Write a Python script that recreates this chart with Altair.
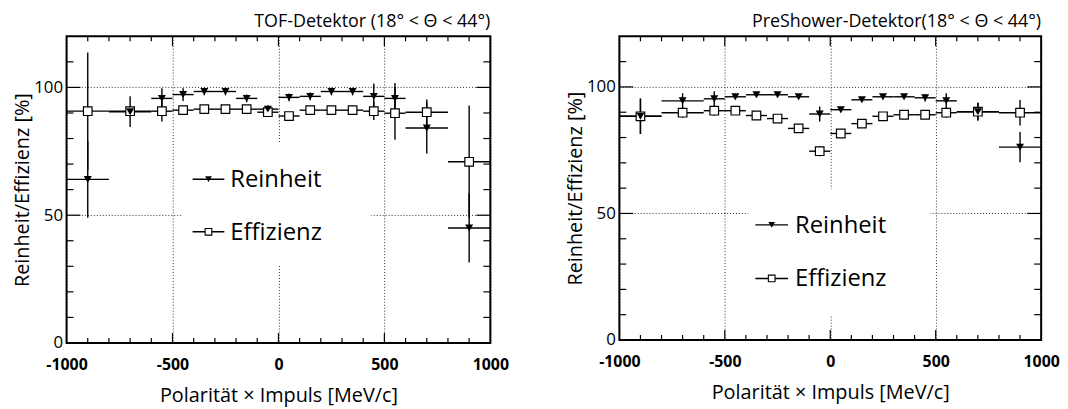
import altair as alt
import pandas as pd

# ---------------- data ----------------
x_center = [-900, -700, -550, -450, -350, -250, -150, -50, 50, 150, 250, 350, 450, 550, 700, 900]
x_halfwidth = [100, 100, 50, 50, 50, 50, 50, 50, 50, 50, 50, 50, 50, 50, 100, 100]

tof_reinheit = [64.0, 90.5, 95.7, 97.2, 98.4, 98.4, 95.7, 91.5, 96.1, 96.5, 98.4, 98.4, 96.5, 95.7, 84.1, 45.0]
tof_reinheit_err = [15.0, 6.0, 4.0, 2.5, 1.5, 1.5, 1.5, 1.5, 1.5, 1.5, 1.5, 1.5, 5.0, 6.0, 10.0, 13.5]
tof_effizienz = [90.7, 90.7, 90.7, 91.1, 91.5, 91.5, 91.5, 90.3, 88.8, 91.1, 91.1, 91.1, 90.7, 89.9, 90.3, 70.9]
tof_effizienz_err = [23.0, 2.0, 4.0, 1.0, 1.0, 1.0, 1.0, 1.0, 1.0, 1.0, 1.0, 1.0, 3.5, 10.4, 5.0, 22.0]

ps_reinheit = [88.4, 94.5, 95.3, 96.1, 96.9, 96.9, 96.1, 89.3, 91.0, 94.9, 96.1, 96.1, 95.7, 94.5, 90.2, 76.2]
ps_reinheit_err = [7.0, 3.0, 3.0, 1.0, 1.0, 1.0, 1.0, 3.0, 1.0, 1.0, 1.0, 1.0, 1.5, 3.0, 3.5, 6.0]
ps_effizienz = [88.4, 89.8, 90.6, 90.6, 88.7, 87.5, 83.6, 74.6, 81.6, 85.5, 88.4, 89.0, 89.0, 89.8, 90.2, 89.8]
ps_effizienz_err = [7.0, 2.0, 2.0, 1.0, 1.0, 1.0, 1.0, 2.0, 1.0, 1.0, 1.0, 1.0, 1.0, 2.0, 3.5, 5.0]

x_label_values = [-1000, -500, 0, 500, 1000]
y_label_values = [0, 50, 100]
x_minor_ticks = [-900, -800, -700, -600, -400, -300, -200, -100, 100, 200, 300, 400, 600, 700, 800, 900]
x_major_ticks = [-500, 0, 500]
y_minor_ticks = [10, 20, 30, 40, 60, 70, 80, 90, 110]
y_major_ticks = [50, 100]

series_names = ["Reinheit", "Effizienz"]
x_title = "Polarität × Impuls [MeV/c]"
y_title = "Reinheit/Effizienz [%]"
title_tof = "TOF-Detektor (18° < Θ < 44°)"
title_ps = "PreShower-Detektor(18° < Θ < 44°)"

FONT = "Open Sans"


def make_df(reinheit, r_err, eff, e_err):
    rows = []
    for name, vals, errs in ((series_names[0], reinheit, r_err), (series_names[1], eff, e_err)):
        for xc, hw, v, e in zip(x_center, x_halfwidth, vals, errs):
            rows.append({"series": name, "x": xc, "hw": hw, "y": v, "err": e})
    return pd.DataFrame(rows)


def panel(df, title, w, h, box, line_x, text_x, entry_y):
    xs = alt.Scale(domain=[-1000, 1000], nice=False, zero=False)
    ys = alt.Scale(domain=[0, 120], nice=False, zero=False)
    x_axis = alt.Axis(values=x_label_values, labelExpr="'' + datum.value", labelFlush=False,
                      grid=True, gridDash=[1, 2], gridColor="#333", gridWidth=1, ticks=False,
                      domain=False, labelFontSize=16, labelFontWeight="bold", labelPadding=14,
                      labelColor="black", title=x_title, titleFontSize=20,
                      titleFontWeight="normal", titleColor="black", titlePadding=13,
                      labelFont=FONT, titleFont=FONT)
    y_axis = alt.Axis(values=y_label_values, labelExpr="'' + datum.value", labelFlush=False,
                      grid=True, gridDash=[1, 2], gridColor="#333", gridWidth=1, ticks=False,
                      domain=False, labelFontSize=17, labelPadding=4, labelColor="black",
                      title=y_title, titleFontSize=20, titleFontWeight="normal",
                      titleColor="black", titlePadding=1, labelFont=FONT, titleFont=FONT)

    X = lambda f: alt.X(f, type="quantitative", scale=xs, axis=x_axis)
    Y = lambda f: alt.Y(f, type="quantitative", scale=ys, axis=y_axis)

    one = alt.Data(values=[{"a": 1}])

    layers = []
    # ticks (inward)
    xmin = pd.DataFrame({"v": x_minor_ticks})
    xmaj = pd.DataFrame({"v": x_major_ticks})
    ymin = pd.DataFrame({"v": y_minor_ticks})
    ymaj = pd.DataFrame({"v": y_major_ticks})
    for d, L in ((xmin, 5), (xmaj, 10)):
        layers.append(alt.Chart(d).mark_rule(color="black", strokeWidth=1.2).encode(
            x=X("v"), y=alt.value(0), y2=alt.value(L)))
        layers.append(alt.Chart(d).mark_rule(color="black", strokeWidth=1.2).encode(
            x=X("v"), y=alt.value(h), y2=alt.value(h - L)))
    for d, L in ((ymin, 7), (ymaj, 14)):
        layers.append(alt.Chart(d).mark_rule(color="black", strokeWidth=1.2).encode(
            y=Y("v"), x=alt.value(0), x2=alt.value(L)))
        layers.append(alt.Chart(d).mark_rule(color="black", strokeWidth=1.2).encode(
            y=Y("v"), x=alt.value(w), x2=alt.value(w - L)))

    # legend white box (covers grid)
    layers.append(alt.Chart(one).mark_rect(color="white").encode(
        x=alt.value(box[0]), x2=alt.value(box[1]), y=alt.value(box[2]), y2=alt.value(box[3])))

    base = alt.Chart(df)
    # horizontal bars
    layers.append(base.mark_rule(color="black", strokeWidth=1.4).transform_calculate(
        xlo="datum.x - datum.hw", xhi="datum.x + datum.hw").encode(
        x=X("xlo"), x2="xhi:Q", y=Y("y")))
    # vertical error bars
    layers.append(base.mark_rule(color="black", strokeWidth=1.4).transform_calculate(
        ylo="datum.y - datum.err", yhi="datum.y + datum.err").encode(
        x=X("x"), y=Y("ylo"), y2="yhi:Q"))
    # markers
    layers.append(base.transform_filter(alt.datum.series == series_names[1]).mark_point(
        shape="square", filled=True, fill="white", stroke="black", strokeWidth=1.2,
        size=75, opacity=1).encode(x=X("x"), y=Y("y")))
    layers.append(base.transform_filter(alt.datum.series == series_names[0]).mark_point(
        shape="triangle-down", filled=True, color="black", size=65, opacity=1).encode(
        x=X("x"), y=Y("y")))

    # legend entries
    for i, name in enumerate(series_names):
        yy = entry_y[i]
        layers.append(alt.Chart(one).mark_rule(color="black", strokeWidth=1.4).encode(
            x=alt.value(line_x[0]), x2=alt.value(line_x[1]), y=alt.value(yy)))
        if i == 0:
            layers.append(alt.Chart(one).mark_point(shape="triangle-down", filled=True,
                                                     color="black", size=45, opacity=1).encode(
                x=alt.value((line_x[0] + line_x[1]) / 2), y=alt.value(yy)))
        else:
            layers.append(alt.Chart(one).mark_point(shape="square", filled=True, fill="white",
                                                     stroke="black", strokeWidth=1.1, size=45,
                                                     opacity=1).encode(
                x=alt.value((line_x[0] + line_x[1]) / 2), y=alt.value(yy)))
        layers.append(alt.Chart(one).mark_text(align="left", baseline="middle", fontSize=24,
                                               font=FONT, color="black").encode(
            x=alt.value(text_x), y=alt.value(yy + 1), text=alt.value(name)))

    # frame
    layers.append(alt.Chart(one).mark_rect(filled=False, stroke="black", strokeWidth=2).encode(
        x=alt.value(0), x2=alt.value(w), y=alt.value(0), y2=alt.value(h)))

    return alt.layer(*layers).properties(
        width=w, height=h,
        title=alt.TitleParams(title, anchor="end", frame="group", fontSize=18,
                              fontWeight="normal", font=FONT, offset=4, color="black"))


left = panel(make_df(tof_reinheit, tof_reinheit_err, tof_effizienz, tof_effizienz_err),
             title_tof, 427, 309, (117, 307, 107, 231), (127, 159), 165, (144, 197))
right = panel(make_df(ps_reinheit, ps_reinheit_err, ps_effizienz, ps_effizienz_err),
              title_ps, 425, 306, (130, 313, 154, 281), (137, 170), 177, (190, 244))

chart = alt.hconcat(left, right, spacing=130, bounds="flush").properties(
    padding={"left": 4, "top": 4, "right": 0, "bottom": 0}
).configure(font=FONT, background="white").configure_view(stroke=None)

chart.save("out.html", embed_options={"renderer": "svg", "actions": False})
